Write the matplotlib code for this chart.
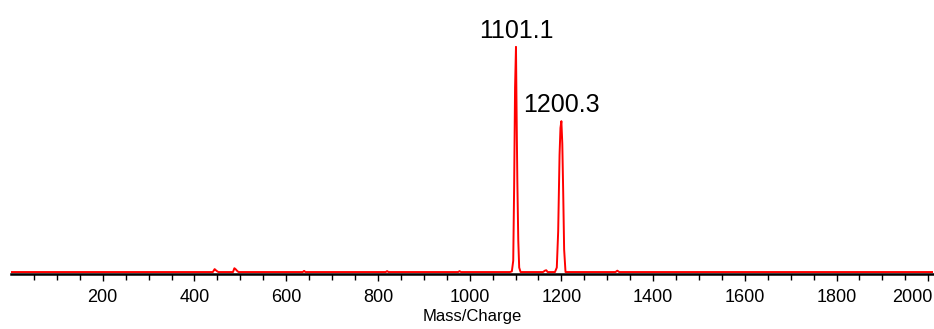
import numpy as np
import matplotlib.pyplot as plt
import matplotlib.transforms as mtransforms

plt.rcParams['font.family'] = ['Liberation Sans', 'DejaVu Sans']

# spectrum points (m/z, relative intensity)
mz = [0, 440, 444, 446, 449, 452, 484, 487, 490, 493, 496, 636, 639, 642,
      817, 820, 823, 975, 978, 981, 1088, 1092, 1095, 1097, 1099, 1101,
      1102, 1103, 1104, 1106, 1108, 1111, 1160, 1164, 1167, 1170, 1186,
      1190, 1193, 1196, 1198, 1200, 1201, 1202, 1204, 1206, 1209, 1318,
      1322, 1326, 2010]
intensity = [0, 0, 1.3, 0.9, 0.4, 0, 0, 1.7, 1.2, 0.5, 0, 0, 0.5, 0,
             0, 0.4, 0, 0, 0.4, 0, 0, 0.3, 5, 38, 82, 100,
             78, 58, 40, 14, 2, 0, 0, 0.6, 0.8, 0, 0,
             2, 18, 52, 64, 67, 62, 57, 35, 10, 0, 0,
             0.6, 0, 0]

peak_mz = [1101.1, 1200.3]
peak_int = [100, 67]
peak_labels = ['1101.1', '1200.3']

major_ticks = [200, 400, 600, 800, 1000, 1200, 1400, 1600, 1800, 2000]

fig = plt.figure(figsize=(9.34, 3.29), dpi=100)
ax = fig.add_axes([0.0118, 0.167, 0.987, 0.80])

ax.plot(mz, intensity, color='#ff0000', lw=1.4)

for x, y, s in zip(peak_mz, peak_int, peak_labels):
    ax.annotate(s, (x, y), xytext=(0, 3), textcoords='offset points',
                ha='center', va='bottom', fontsize=18)

ax.set_xlim(0, 2010)
ax.set_ylim(-0.9, 116)
ax.set_xticks(major_ticks)
ax.set_xticks(np.arange(50, 2010, 50), minor=True)
ax.set_yticks([])
for side in ['top', 'right', 'left']:
    ax.spines[side].set_visible(False)
ax.spines['bottom'].set_linewidth(1.8)
ax.tick_params(axis='x', which='major', length=5, width=1, labelsize=13, pad=6)
ax.tick_params(axis='x', which='minor', length=4, width=1)
ax.set_xlabel('Mass/Charge', fontsize=12, labelpad=2)

# last label is pushed inside the picture, as in the original
fig.canvas.draw()
last = ax.get_xticklabels()[-1]
last.set_horizontalalignment('right')
last.set_transform(last.get_transform() +
                   mtransforms.ScaledTranslation(4 / 100, 0, fig.dpi_scale_trans))

fig.savefig('out.png', dpi=100)
